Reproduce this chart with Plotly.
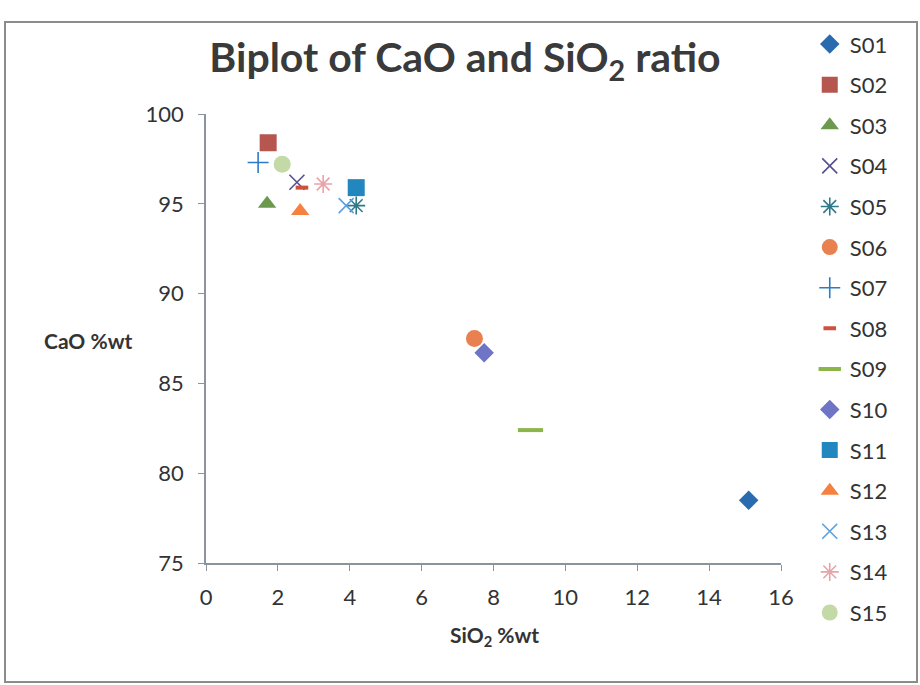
import plotly.graph_objects as go

names = ["S01", "S02", "S03", "S04", "S05", "S06", "S07", "S08",
         "S09", "S10", "S11", "S12", "S13", "S14", "S15"]
sio2 = [15.1, 1.73, 1.7, 2.53, 4.18, 7.47, 1.45, 2.67,
        9.03, 7.74, 4.18, 2.62, 3.9, 3.26, 2.12]
cao = [78.5, 98.4, 95.0, 96.2, 94.9, 87.5, 97.3, 95.9,
       82.4, 86.7, 95.9, 94.6, 94.9, 96.1, 97.2]

colors = ["#2a6bb0", "#b5564f", "#6b9a4f", "#55508f", "#2f7a88", "#e8804f",
          "#2b7cc6", "#d05040", "#8ab64a", "#6e74c6", "#2387bf", "#f58040",
          "#5aa0e0", "#e8a3a8", "#c3daa6"]
symbols = ["diamond", "square", "triangle-up", "x-thin-open", "asterisk-open",
           "circle", "cross-thin-open", "line-ew-open", "line-ew-open",
           "diamond", "square", "triangle-up", "x-thin-open", "asterisk-open",
           "circle"]
sizes = [15, 17, 16, 15, 15, 17, 15, 9, 18, 15, 17, 16, 15, 15, 17]

FONT = "Lato"
fig = go.Figure()
for i, n in enumerate(names):
    sym = symbols[i]
    thin = sym.endswith("-open")
    lw = 4 if sym.startswith("line") else 1.6
    fig.add_trace(go.Scatter(
        x=[sio2[i]], y=[cao[i]], mode="markers", name=n, legendgroup=n,
        marker=dict(symbol=sym, size=sizes[i], color=colors[i],
                    line=dict(color=colors[i], width=lw if thin else 0)),
    ))

fig.update_layout(
    width=920, height=685,
    margin=dict(l=206, r=139, t=114, b=122),
    paper_bgcolor="white", plot_bgcolor="white",
    font=dict(family=FONT, color="#333333", size=18),
    title=dict(text="<b>Biplot of CaO and SiO<sub>2</sub> ratio</b>",
               x=(465) / 920, xanchor="center", y=1 - 58 / 685, yanchor="middle",
               font=dict(family=FONT, size=41, color="#3a3a3a")),
    showlegend=True,
    legend=dict(x=1.05, xanchor="left", y=1.202, yanchor="top",
                font=dict(family=FONT, size=22, color="#333333"),
                tracegroupgap=9, itemsizing="trace", maxheight=700,
                bgcolor="rgba(0,0,0,0)"),
    xaxis=dict(range=[0, 16], dtick=2, tick0=0, showgrid=False, zeroline=False,
               showline=True, linecolor="#8a949e", linewidth=1.5,
               ticks="outside", ticklen=6, tickcolor="#8a949e",
               ticklabelstandoff=8,
               tickfont=dict(size=22, color="#333333")),
    yaxis=dict(range=[75, 100], dtick=5, tick0=75, showgrid=False, zeroline=False,
               showline=True, linecolor="#8a949e", linewidth=1.5,
               ticks="outside", ticklen=6, tickcolor="#8a949e",
               ticklabelstandoff=10,
               tickfont=dict(size=22, color="#333333")),
    annotations=[
        dict(text="<b>CaO %wt</b>", xref="paper", yref="paper",
             x=(88 - 206) / 575, y=(563 - 340) / 449, showarrow=False,
             xanchor="center", yanchor="middle",
             font=dict(family=FONT, size=21, color="#333333")),
        dict(text="<b>SiO<sub>2</sub> %wt</b>", xref="paper", yref="paper",
             x=(494 - 206) / 575, y=(563 - 636) / 449, showarrow=False,
             xanchor="center", yanchor="middle",
             font=dict(family=FONT, size=21, color="#333333")),
    ],
    shapes=[dict(type="rect", xref="paper", yref="paper",
                 x0=(5 - 206) / 575, x1=(917 - 206) / 575,
                 y0=(563 - 682) / 449, y1=(563 - 22) / 449,
                 line=dict(color="#8c8c8c", width=2), layer="below")],
)

fig.write_html("out.html")
